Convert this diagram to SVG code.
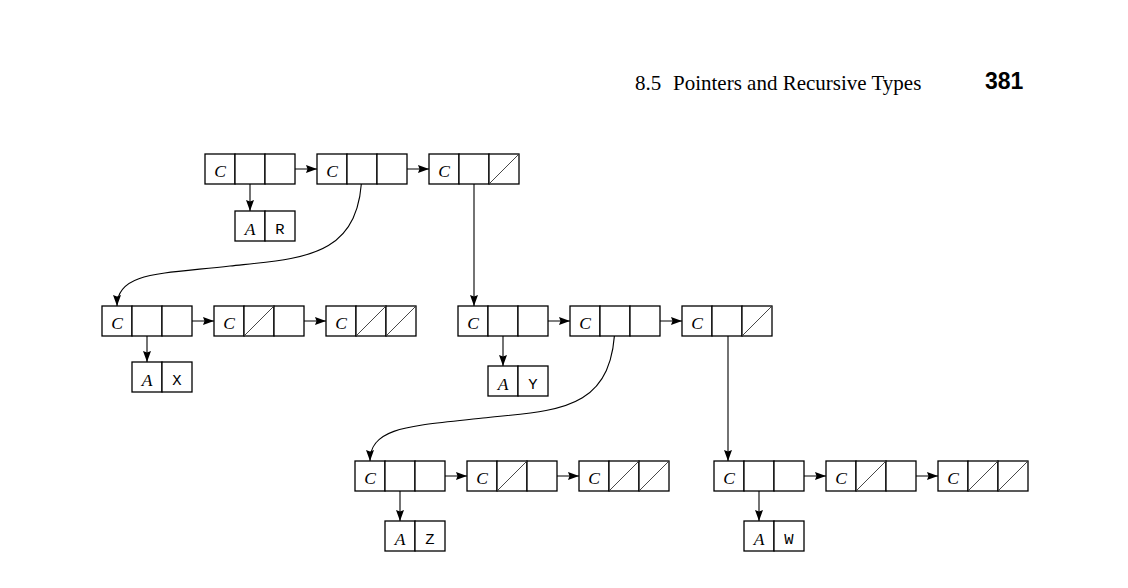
<svg xmlns="http://www.w3.org/2000/svg" width="1128" height="588" viewBox="0 0 1128 588">
<defs>
<marker id="ah" markerUnits="userSpaceOnUse" markerWidth="12" markerHeight="9" refX="11" refY="4" orient="auto">
<path d="M0,0 L11,4 L0,8 L1.5,4 z" fill="#000"/>
</marker>
</defs>
<style>
.cell{fill:#fff;stroke:#000;stroke-width:1.3}
.nil{stroke:#333;stroke-width:0.9}
.c{font-family:"Liberation Serif",serif;font-style:italic;font-size:17.5px;text-anchor:middle;fill:#000}
.m{font-family:"Liberation Mono",monospace;font-size:15.5px;text-anchor:middle;fill:#000}
.conn{fill:none;stroke:#000;stroke-width:1.1}
.hd{font-family:"Liberation Serif",serif;font-size:21px;fill:#000}
.pg{font-family:"Liberation Sans",sans-serif;font-weight:bold;font-size:23px;fill:#000}
</style>
<rect width="1128" height="588" fill="#fff"/>
<text class="hd" x="635" y="90">8.5</text>
<text class="hd" x="673" y="90">Pointers and Recursive Types</text>
<text class="pg" x="985" y="89">381</text>

<g id="connectors">
<line class="conn" x1="280" y1="169" x2="317" y2="169" marker-end="url(#ah)"/>
<line class="conn" x1="392" y1="169" x2="429" y2="169" marker-end="url(#ah)"/>
<line class="conn" x1="177" y1="321" x2="214" y2="321" marker-end="url(#ah)"/>
<line class="conn" x1="289" y1="321" x2="326" y2="321" marker-end="url(#ah)"/>
<line class="conn" x1="533" y1="321" x2="570" y2="321" marker-end="url(#ah)"/>
<line class="conn" x1="645" y1="321" x2="682" y2="321" marker-end="url(#ah)"/>
<line class="conn" x1="430" y1="476" x2="467" y2="476" marker-end="url(#ah)"/>
<line class="conn" x1="542" y1="476" x2="579" y2="476" marker-end="url(#ah)"/>
<line class="conn" x1="789" y1="476" x2="826" y2="476" marker-end="url(#ah)"/>
<line class="conn" x1="901" y1="476" x2="938" y2="476" marker-end="url(#ah)"/>
<line class="conn" x1="250" y1="169" x2="250" y2="211" marker-end="url(#ah)"/>
<line class="conn" x1="147" y1="321" x2="147" y2="362" marker-end="url(#ah)"/>
<line class="conn" x1="503" y1="321" x2="503" y2="366" marker-end="url(#ah)"/>
<line class="conn" x1="400" y1="476" x2="400" y2="521" marker-end="url(#ah)"/>
<line class="conn" x1="759" y1="476" x2="759" y2="521" marker-end="url(#ah)"/>
<line class="conn" x1="474" y1="169" x2="474" y2="306" marker-end="url(#ah)"/>
<line class="conn" x1="728" y1="321" x2="728" y2="461" marker-end="url(#ah)"/>
<path class="conn" d="M362,169 C362,258 305,258 230,266 C160,274 117,272 117,306" marker-end="url(#ah)"/>
<path class="conn" d="M615,321 C615,412 558,410 483,418 C413,426 370,426 370,461" marker-end="url(#ah)"/>
</g>

<g id="t1">
<rect class="cell" x="205" y="154" width="30" height="30"/><rect class="cell" x="235" y="154" width="30" height="30"/><rect class="cell" x="265" y="154" width="30" height="30"/>
<text class="c" x="220" y="176.5">C</text>
</g>
<g id="t2">
<rect class="cell" x="317" y="154" width="30" height="30"/><rect class="cell" x="347" y="154" width="30" height="30"/><rect class="cell" x="377" y="154" width="30" height="30"/>
<text class="c" x="332" y="176.5">C</text>
</g>
<g id="t3">
<rect class="cell" x="429" y="154" width="30" height="30"/><rect class="cell" x="459" y="154" width="30" height="30"/><rect class="cell" x="489" y="154" width="30" height="30"/>
<line class="nil" x1="489" y1="184" x2="519" y2="154"/>
<text class="c" x="444" y="176.5">C</text>
</g>
<g id="aR">
<rect class="cell" x="235" y="211" width="30" height="30"/><rect class="cell" x="265" y="211" width="30" height="30"/>
<text class="c" x="250" y="234.5">A</text><text class="m" x="280" y="234">R</text>
</g>

<g id="ml1">
<rect class="cell" x="102" y="306" width="30" height="30"/><rect class="cell" x="132" y="306" width="30" height="30"/><rect class="cell" x="162" y="306" width="30" height="30"/>
<text class="c" x="117" y="328.5">C</text>
</g>
<g id="ml2">
<rect class="cell" x="214" y="306" width="30" height="30"/><rect class="cell" x="244" y="306" width="30" height="30"/><rect class="cell" x="274" y="306" width="30" height="30"/>
<line class="nil" x1="244" y1="336" x2="274" y2="306"/>
<text class="c" x="229" y="328.5">C</text>
</g>
<g id="ml3">
<rect class="cell" x="326" y="306" width="30" height="30"/><rect class="cell" x="356" y="306" width="30" height="30"/><rect class="cell" x="386" y="306" width="30" height="30"/>
<line class="nil" x1="356" y1="336" x2="386" y2="306"/><line class="nil" x1="386" y1="336" x2="416" y2="306"/>
<text class="c" x="341" y="328.5">C</text>
</g>
<g id="aX">
<rect class="cell" x="132" y="362" width="30" height="30"/><rect class="cell" x="162" y="362" width="30" height="30"/>
<text class="c" x="147" y="385.5">A</text><text class="m" x="177" y="385">X</text>
</g>

<g id="mr1">
<rect class="cell" x="458" y="306" width="30" height="30"/><rect class="cell" x="488" y="306" width="30" height="30"/><rect class="cell" x="518" y="306" width="30" height="30"/>
<text class="c" x="473" y="328.5">C</text>
</g>
<g id="mr2">
<rect class="cell" x="570" y="306" width="30" height="30"/><rect class="cell" x="600" y="306" width="30" height="30"/><rect class="cell" x="630" y="306" width="30" height="30"/>
<text class="c" x="585" y="328.5">C</text>
</g>
<g id="mr3">
<rect class="cell" x="682" y="306" width="30" height="30"/><rect class="cell" x="712" y="306" width="30" height="30"/><rect class="cell" x="742" y="306" width="30" height="30"/>
<line class="nil" x1="742" y1="336" x2="772" y2="306"/>
<text class="c" x="697" y="328.5">C</text>
</g>
<g id="aY">
<rect class="cell" x="488" y="366" width="30" height="30"/><rect class="cell" x="518" y="366" width="30" height="30"/>
<text class="c" x="503" y="389.5">A</text><text class="m" x="533" y="389">Y</text>
</g>

<g id="bl1">
<rect class="cell" x="355" y="461" width="30" height="30"/><rect class="cell" x="385" y="461" width="30" height="30"/><rect class="cell" x="415" y="461" width="30" height="30"/>
<text class="c" x="370" y="483.5">C</text>
</g>
<g id="bl2">
<rect class="cell" x="467" y="461" width="30" height="30"/><rect class="cell" x="497" y="461" width="30" height="30"/><rect class="cell" x="527" y="461" width="30" height="30"/>
<line class="nil" x1="497" y1="491" x2="527" y2="461"/>
<text class="c" x="482" y="483.5">C</text>
</g>
<g id="bl3">
<rect class="cell" x="579" y="461" width="30" height="30"/><rect class="cell" x="609" y="461" width="30" height="30"/><rect class="cell" x="639" y="461" width="30" height="30"/>
<line class="nil" x1="609" y1="491" x2="639" y2="461"/><line class="nil" x1="639" y1="491" x2="669" y2="461"/>
<text class="c" x="594" y="483.5">C</text>
</g>
<g id="aZ">
<rect class="cell" x="385" y="521" width="30" height="30"/><rect class="cell" x="415" y="521" width="30" height="30"/>
<text class="c" x="400" y="544.5">A</text><text class="m" x="430" y="544">Z</text>
</g>

<g id="br1">
<rect class="cell" x="714" y="461" width="30" height="30"/><rect class="cell" x="744" y="461" width="30" height="30"/><rect class="cell" x="774" y="461" width="30" height="30"/>
<text class="c" x="729" y="483.5">C</text>
</g>
<g id="br2">
<rect class="cell" x="826" y="461" width="30" height="30"/><rect class="cell" x="856" y="461" width="30" height="30"/><rect class="cell" x="886" y="461" width="30" height="30"/>
<line class="nil" x1="856" y1="491" x2="886" y2="461"/>
<text class="c" x="841" y="483.5">C</text>
</g>
<g id="br3">
<rect class="cell" x="938" y="461" width="30" height="30"/><rect class="cell" x="968" y="461" width="30" height="30"/><rect class="cell" x="998" y="461" width="30" height="30"/>
<line class="nil" x1="968" y1="491" x2="998" y2="461"/><line class="nil" x1="998" y1="491" x2="1028" y2="461"/>
<text class="c" x="953" y="483.5">C</text>
</g>
<g id="aW">
<rect class="cell" x="744" y="521" width="30" height="30"/><rect class="cell" x="774" y="521" width="30" height="30"/>
<text class="c" x="759" y="544.5">A</text><text class="m" x="789" y="544">W</text>
</g>
</svg>
